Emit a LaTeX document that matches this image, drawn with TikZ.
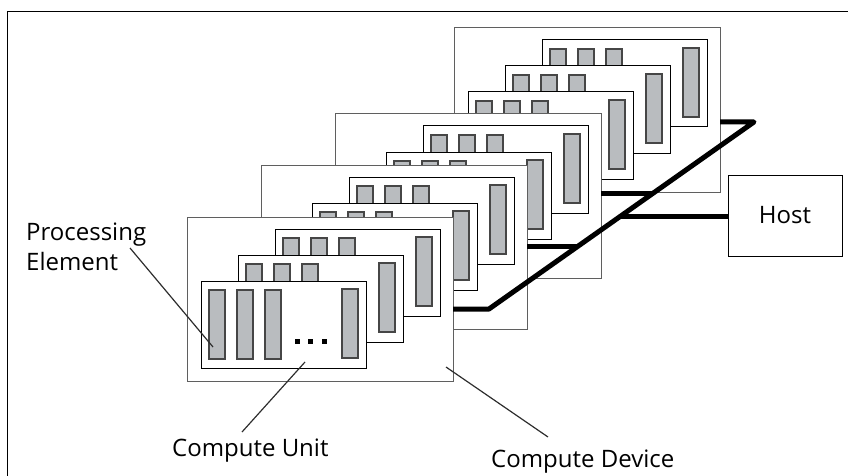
\documentclass[tikz,border=0pt]{standalone}
\usepackage{fontspec}
\setmainfont{Open Sans}
\usetikzlibrary{calc}

\definecolor{devgray}{RGB}{95,95,95}
\definecolor{pegray}{RGB}{185,188,191}
\definecolor{pedge}{RGB}{70,70,70}
\definecolor{leadgray}{RGB}{45,45,45}

% one compute unit: box, four processing elements and the ellipsis
\newcommand\cunit[3]{% name, x, y (top left)
  \node[unitbox] (#1) at (#2,#3) {};
  \begin{scope}[shift={(#2,#3)}]
    \foreach \px in {8,36,64} \draw[pebar] (\px,9) rectangle ++(16,69);
    \draw[pebar] (141,8) rectangle ++(16,69);
    \foreach \dx in {96.5,109.5,123} \fill (\dx-2.5,58) rectangle ++(5,5);
  \end{scope}}

% one compute device holding three compute units, back to front
\newcommand\cdevice[3]{% name, x, y (top left)
  \node[devbox] (#1) at (#2,#3) {};
  \cunit{#1u3}{#2+88}{#3+12}
  \cunit{#1u2}{#2+51}{#3+38}
  \cunit{#1u1}{#2+14}{#3+64}}

\begin{document}
\begin{tikzpicture}[x=1pt,y=-1pt,
  devbox/.style={draw=devgray, fill=white, line width=1pt,
    minimum width=266pt, minimum height=164pt,
    anchor=north west, inner sep=0pt, outer sep=0pt},
  unitbox/.style={draw=black, fill=white, line width=1pt,
    minimum width=165pt, minimum height=87pt,
    anchor=north west, inner sep=0pt, outer sep=0pt},
  pebar/.style={draw=pedge, fill=pegray, line width=1.3pt},
  bus/.style={line width=5pt, line join=round},
  leader/.style={draw=leadgray, line width=1.2pt},
  hostbox/.style={draw=black, fill=white, line width=1pt,
    minimum width=114pt, minimum height=81pt, inner sep=0pt,
    font=\fontsize{24}{30}\selectfont},
  lbltext/.style={font=\fontsize{24}{30}\selectfont, inner sep=0pt},
]
\useasboundingbox (0,0) rectangle (848,476);

% frame
\draw[line width=1.3pt] (7.5,476) -- (7.5,11.5) -- (848,11.5);

% compute devices, back to front
\cdevice{d4}{454}{28}
\cdevice{d3}{335}{114}
\cdevice{d2}{261}{165}
\cdevice{d1}{187}{217}

% bus to the host
\coordinate (b1) at (489,309);
\coordinate (b4) at (754,122);
\coordinate (j2) at ($(b1)!0.3316!(b4)$);
\coordinate (j3) at ($(b1)!0.6203!(b4)$);
\coordinate (jh) at ($(b1)!0.4973!(b4)$);
\node[hostbox] (host) at (785,215.5) {Host};
\draw[bus] (d4.east |- b4) -- (b4) -- (b1) -- (d1.east |- b1);
\draw[bus] (d2.east |- j2) -- (j2);
\draw[bus] (d3.east |- j3) -- (j3);
\draw[bus] (jh) -- (host.west |- jh);

% labels and leader lines
\node[lbltext, anchor=base west] (pelbl1) at (26,240) {Processing};
\node[lbltext, anchor=base west] (pelbl2) at (26,270) {Element};
\node[lbltext, anchor=base west] (culbl) at (172,456) {Compute Unit};
\node[lbltext, anchor=base west] (cdlbl) at (491,467) {Compute Device};

\coordinate (pefrom) at (130,248);
\coordinate (peto) at (213,347);
\coordinate (cufrom) at (242,432);
\coordinate (cuto) at (305,362);
\coordinate (cdfrom) at (548,437);
\coordinate (cdto) at (446,367);
\draw[leader] (pefrom) -- (peto);
\draw[leader] (cufrom) -- (cuto);
\draw[leader] (cdfrom) -- (cdto);
\end{tikzpicture}
\end{document}
